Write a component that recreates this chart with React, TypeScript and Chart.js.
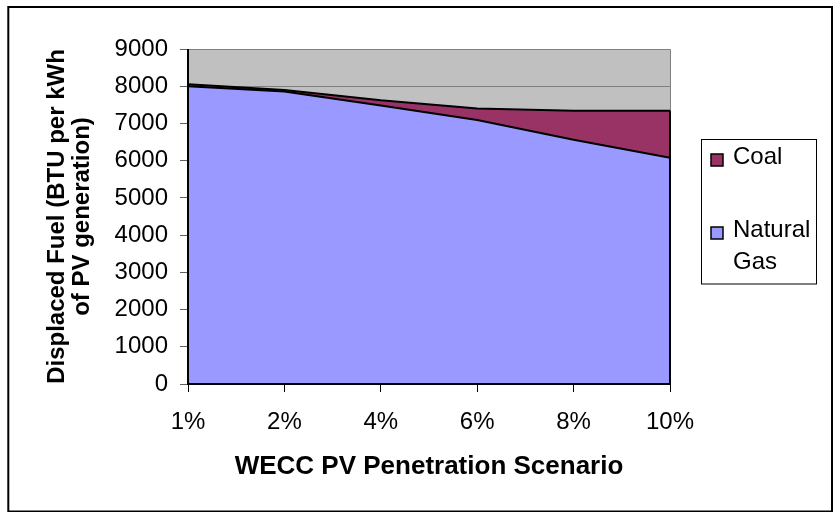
import React, { useEffect, useRef } from "react";
import { Chart, registerables } from "chart.js";

Chart.register(...registerables);

// ---- data ----
const categories = ["1%", "2%", "4%", "6%", "8%", "10%"];
const naturalGas = [8000, 7860, 7480, 7090, 6560, 6080];
const coal = [50, 40, 140, 310, 780, 1260];
const yMin = 0;
const yMax = 9000;
const yStep = 1000;
const seriesNames = ["Natural Gas", "Coal"];
const xTitle = "WECC PV Penetration Scenario";
const yTitle = ["Displaced Fuel (BTU per kWh", "of PV generation)"];

// ---- style ----
const FONT = "'Liberation Sans', Arial, Helvetica, sans-serif";
const GAS_COLOR = "#9999FF";
const COAL_COLOR = "#993366";
const PLOT_BG = "#C0C0C0";

const framePlugin = {
  id: "frame",
  beforeDraw(chart: any) {
    const { ctx, chartArea } = chart;
    ctx.save();
    ctx.fillStyle = "#ffffff";
    ctx.fillRect(0, 0, chart.width, chart.height);
    ctx.fillStyle = PLOT_BG;
    ctx.fillRect(chartArea.left, chartArea.top, chartArea.right - chartArea.left, chartArea.bottom - chartArea.top);
    ctx.restore();
  },
  beforeDatasetsDraw(chart: any) {
    const { ctx, chartArea } = chart;
    ctx.save();
    ctx.strokeStyle = "#808080";
    ctx.lineWidth = 1;
    ctx.beginPath();
    ctx.moveTo(chartArea.left, chartArea.top + 0.5);
    ctx.lineTo(chartArea.right + 0.5, chartArea.top + 0.5);
    ctx.lineTo(chartArea.right + 0.5, chartArea.bottom);
    ctx.stroke();
    ctx.restore();
  },
  afterDatasetsDraw(chart: any) {
    const { ctx, chartArea, scales } = chart;
    const xs = scales.x;
    const ys = scales.y;
    const last = categories.length - 1;
    const xr = xs.getPixelForValue(last);
    ctx.save();
    ctx.strokeStyle = "#000";
    ctx.lineWidth = 2;
    // right edge of the stacked areas
    ctx.beginPath();
    ctx.moveTo(xr, ys.getPixelForValue(0));
    ctx.lineTo(xr, ys.getPixelForValue(naturalGas[last] + coal[last]));
    ctx.stroke();
    // axes
    ctx.beginPath();
    ctx.moveTo(chartArea.left, chartArea.top);
    ctx.lineTo(chartArea.left, chartArea.bottom);
    ctx.lineTo(chartArea.right + 1, chartArea.bottom);
    ctx.stroke();
    ctx.restore();
  },
  afterDraw(chart: any) {
    const { ctx } = chart;
    ctx.save();
    // outer frame
    ctx.strokeStyle = "#000";
    ctx.lineWidth = 2;
    ctx.strokeRect(8.3, 7, 823.7, 504.5);

    // legend box
    ctx.lineWidth = 1;
    ctx.strokeRect(701.5, 139.5, 115, 144.5);
    ctx.font = `24px ${FONT}`;
    ctx.textBaseline = "middle";
    ctx.textAlign = "left";
    const ds = chart.data.datasets;
    const order = [1, 0];
    const firstLineY = [157, 230];
    const maxW = 80;
    order.forEach((di, i) => {
      const d = ds[di];
      const words = String(d.label).split(" ");
      const lines: string[] = [];
      let cur = "";
      words.forEach((w) => {
        const test = cur ? cur + " " + w : w;
        if (cur && ctx.measureText(test).width > maxW) {
          lines.push(cur);
          cur = w;
        } else cur = test;
      });
      if (cur) lines.push(cur);
      const y0 = firstLineY[i];
      ctx.fillStyle = d.backgroundColor;
      ctx.fillRect(711, y0 - 3, 12, 12);
      ctx.strokeStyle = "#000";
      ctx.lineWidth = 1.5;
      ctx.strokeRect(711, y0 - 3, 12, 12);
      ctx.fillStyle = "#000";
      lines.forEach((ln, k) => ctx.fillText(ln, 733, y0 + k * 32));
    });
    ctx.restore();
  },
};

export default function App() {
  const ref = useRef<HTMLCanvasElement | null>(null);

  useEffect(() => {
    if (!ref.current) return;
    const chart = new Chart(ref.current, {
      type: "line",
      data: {
        labels: categories,
        datasets: [
          {
            label: seriesNames[0],
            data: naturalGas,
            backgroundColor: GAS_COLOR,
            borderColor: "#000",
            borderWidth: 2,
            pointRadius: 0,
            fill: "origin",
            tension: 0,
          },
          {
            label: seriesNames[1],
            data: coal,
            backgroundColor: COAL_COLOR,
            borderColor: "#000",
            borderWidth: 2,
            pointRadius: 0,
            fill: "-1",
            tension: 0,
          },
        ],
      },
      options: {
        responsive: false,
        devicePixelRatio: 1,
        animation: false,
        events: [],
        layout: { padding: { left: 0, right: 167, top: 49, bottom: 0 } },
        plugins: {
          legend: { display: false },
          tooltip: { enabled: false },
          title: { display: false },
        },
        scales: {
          x: {
            type: "category",
            offset: false,
            grid: {
              drawOnChartArea: false,
              drawTicks: true,
              tickLength: 8,
              tickColor: "#000",
              tickWidth: 1,
            },
            border: { display: false },
            ticks: {
              font: { family: FONT, size: 24, lineHeight: 1.2 },
              color: "#000",
              padding: 16,
              maxRotation: 0,
              autoSkip: false,
            },
            title: {
              display: true,
              text: xTitle,
              color: "#000",
              font: { family: FONT, size: 26, weight: "bold", lineHeight: 1.0 },
              padding: { top: 0, bottom: 32 },
            },
            afterFit: (s: any) => {
              s.height = 128;
              s.paddingLeft = 0;
              s.paddingRight = 0;
            },
          },
          y: {
            stacked: true,
            min: yMin,
            max: yMax,
            grid: {
              color: "#808080",
              lineWidth: 1,
              tickLength: 8,
              tickColor: "#606060",
            },
            border: { display: false },
            ticks: {
              stepSize: yStep,
              font: { family: FONT, size: 24 },
              color: "#000",
              padding: 12,
              callback: (v: any) => String(v),
            },
            title: {
              display: true,
              text: yTitle,
              color: "#000",
              font: { family: FONT, size: 24, weight: "bold", lineHeight: 1.05 },
              padding: { top: 45, bottom: 0 },
            },
            afterFit: (s: any) => {
              s.width = 188;
              s.paddingTop = 0;
              s.paddingBottom = 0;
            },
          },
        },
      },
      plugins: [framePlugin],
    });
    return () => chart.destroy();
  }, []);

  return (
    <div style={{ position: "fixed", left: 0, top: 0, width: 837, height: 512, background: "#fff" }}>
      <canvas ref={ref} width={837} height={512} style={{ display: "block", width: "837px", height: "512px" }} />
    </div>
  );
}
